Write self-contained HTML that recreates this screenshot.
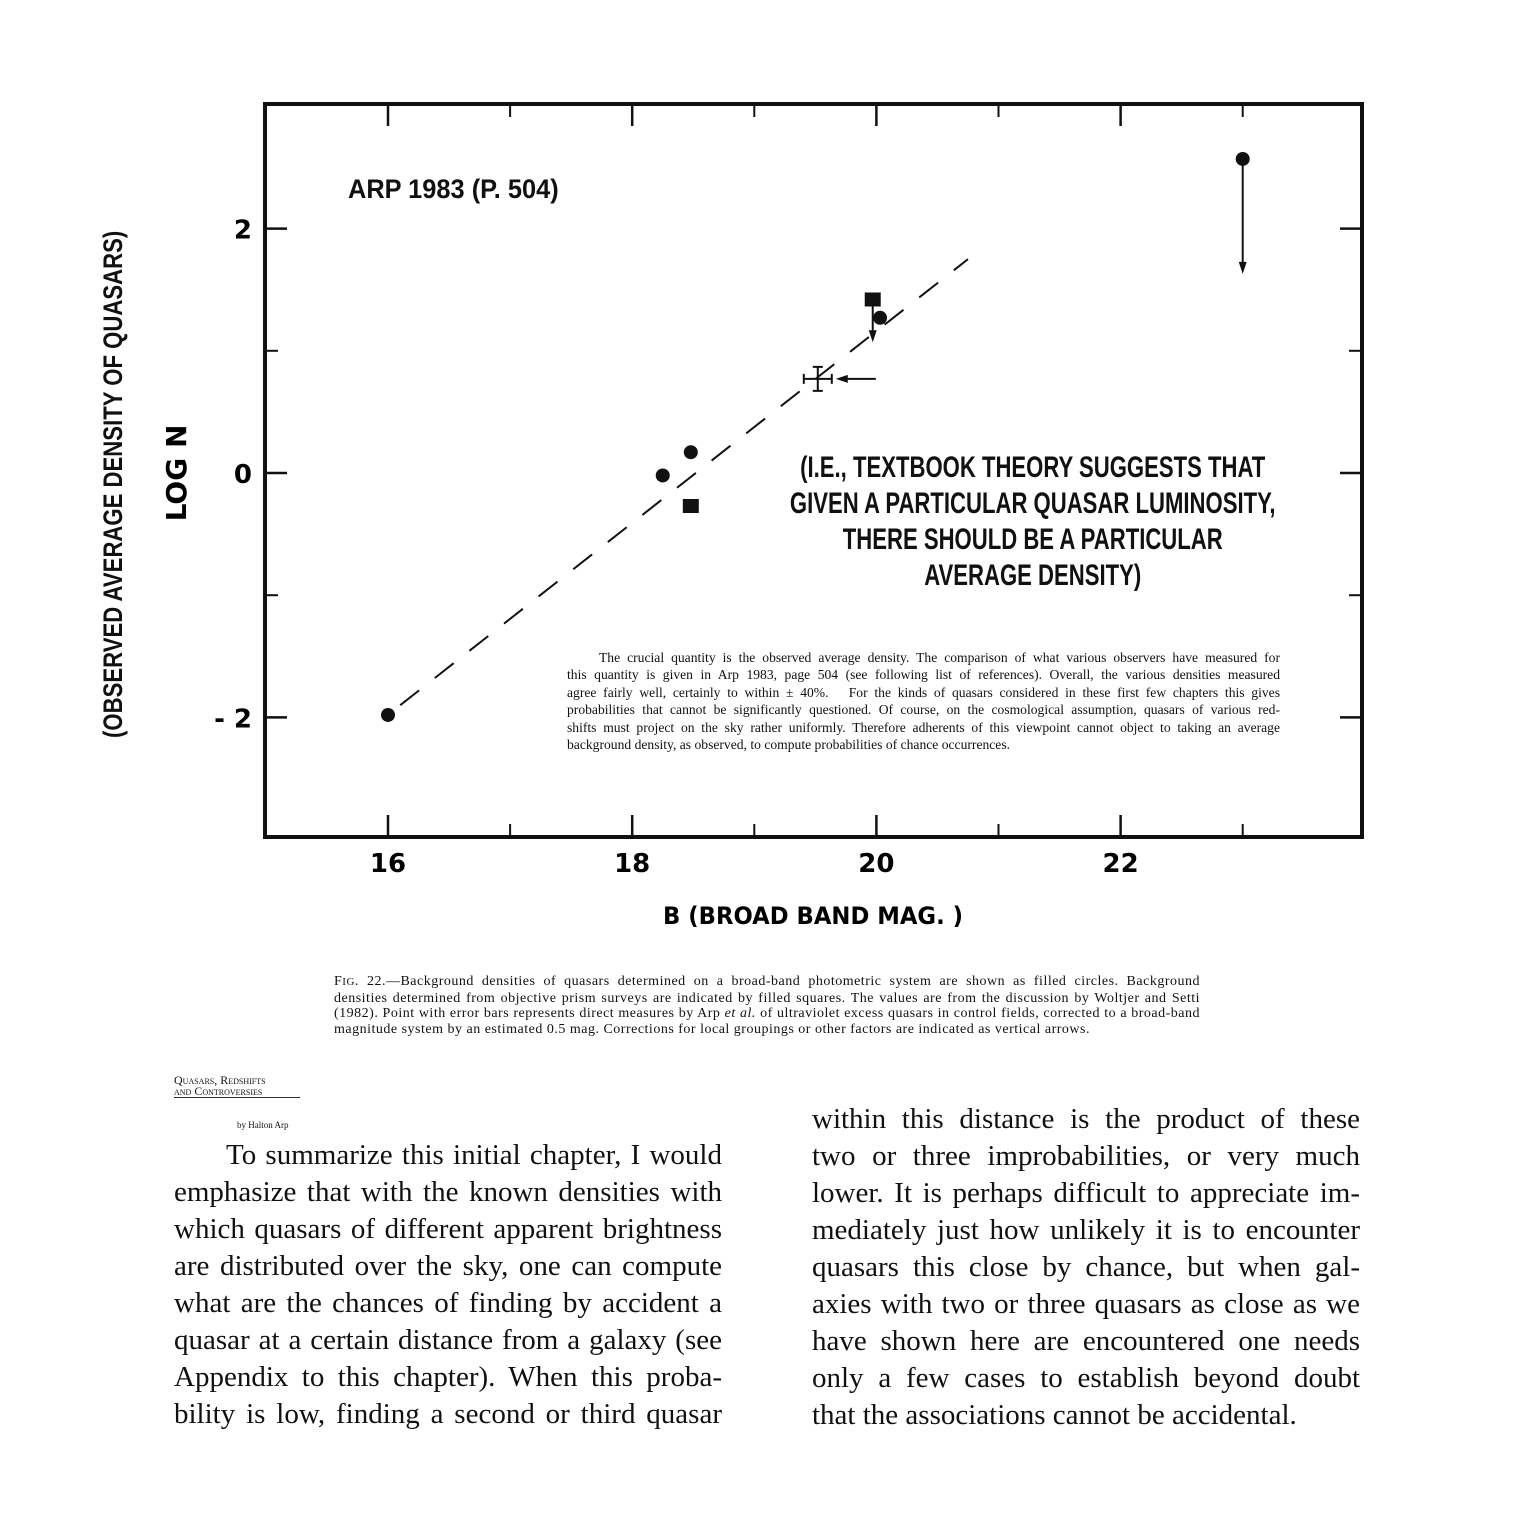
<!DOCTYPE html>
<html><head><meta charset="utf-8">
<style>
body{margin:0;background:#fff;width:1536px;height:1536px;position:relative;overflow:hidden;font-family:"Liberation Sans",sans-serif;color:#111}
.cond{font-family:"Liberation Sans",sans-serif;font-weight:bold;position:absolute;white-space:nowrap;transform-origin:left top}
.serif{font-family:"Liberation Serif",serif;position:absolute}
.serif div{white-space:nowrap;text-align:justify;text-align-last:justify}
.serif div.last{text-align-last:left}
</style></head><body>
<svg width="1536" height="1536" style="position:absolute;left:0;top:0">
<g id="plot"></g>
</svg>

<div class="cond" style="left:348px;top:174px;font-size:27px;transform:scaleX(0.94)">ARP 1983 (P. 504)</div>
<div class="cond" style="left:98px;top:738px;font-size:27px;transform:rotate(-90deg) scaleX(0.82);transform-origin:left top">(OBSERVED AVERAGE DENSITY OF QUASARS)</div>
<div class="cond" style="left:784px;top:450px;font-size:30px;line-height:36px;text-align:center;width:675px;transform:scaleX(0.737)">(I.E., TEXTBOOK THEORY SUGGESTS THAT<br>GIVEN A PARTICULAR QUASAR LUMINOSITY,<br>THERE SHOULD BE A PARTICULAR<br>AVERAGE DENSITY)</div>
<div class="serif" style="left:567px;top:649px;width:713px;font-size:13.6px;line-height:17.4px">
<div style="padding-left:32px">The crucial quantity is the observed average density. The comparison of what various observers have measured for</div>
<div>this quantity is given in Arp 1983, page 504 (see following list of references). Overall, the various densities measured</div>
<div>agree fairly well, certainly to within ± 40%.&nbsp;&nbsp; For the kinds of quasars considered in these first few chapters this gives</div>
<div>probabilities that cannot be significantly questioned. Of course, on the cosmological assumption, quasars of various red-</div>
<div>shifts must project on the sky rather uniformly. Therefore adherents of this viewpoint cannot object to taking an average</div>
<div class="last">background density, as observed, to compute probabilities of chance occurrences.</div>
</div>
<div class="serif" style="left:334px;top:974px;width:866px;font-size:14px;line-height:15.6px;letter-spacing:0.5px">
<div>F<span style="font-size:11px">IG</span>. 22.—Background densities of quasars determined on a broad-band photometric system are shown as filled circles. Background</div>
<div>densities determined from objective prism surveys are indicated by filled squares. The values are from the discussion by Woltjer and Setti</div>
<div>(1982). Point with error bars represents direct measures by Arp <i>et al.</i> of ultraviolet excess quasars in control fields, corrected to a broad-band</div>
<div class="last">magnitude system by an estimated 0.5 mag. Corrections for local groupings or other factors are indicated as vertical arrows.</div>
</div>
<div class="serif" style="left:174px;top:1075px;font-size:12px;line-height:11px;border-bottom:1px solid #333;width:126px;font-variant:small-caps">Quasars, Redshifts<br>and Controversies</div>
<div class="serif" style="left:237px;top:1120px;font-size:9px">by Halton Arp</div>
<div class="serif" style="left:174px;top:1137px;width:548px;font-size:29px;line-height:37px">
<div style="padding-left:52px">To summarize this initial chapter, I would</div>
<div>emphasize that with the known densities with</div>
<div>which quasars of different apparent brightness</div>
<div>are distributed over the sky, one can compute</div>
<div>what are the chances of finding by accident a</div>
<div>quasar at a certain distance from a galaxy (see</div>
<div>Appendix to this chapter). When this proba-</div>
<div>bility is low, finding a second or third quasar</div>
</div>
<div class="serif" style="left:812px;top:1101px;width:548px;font-size:29px;line-height:37px">
<div>within this distance is the product of these</div>
<div>two or three improbabilities, or very much</div>
<div>lower. It is perhaps difficult to appreciate im-</div>
<div>mediately just how unlikely it is to encounter</div>
<div>quasars this close by chance, but when gal-</div>
<div>axies with two or three quasars as close as we</div>
<div>have shown here are encountered one needs</div>
<div>only a few cases to establish beyond doubt</div>
<div class="last">that the associations cannot be accidental.</div>
</div>

<script>
const xTicks=[16,18,20,22];
const xMinor=[17,19,21,23];
const yTicks=[2,0,-2];
const yMinor=[1,-1];
const circleX=[16,18.25,18.48,20.03,23.0];
const circleY=[-1.98,-0.02,0.17,1.27,2.57];
const squareX=[18.48,19.97];
const squareY=[-0.27,1.42];
const errX=[19.52], errY=[0.77];
const arrowX=[19.97,23.0], arrowFrom=[1.38,2.55], arrowTo=[1.07,1.63];
const fitX=[16.1,20.75], fitY=[-1.9,1.75];

const X0=265,X1=1362,Y0=104,Y1=837;
const xs=v=>388+(v-16)*122.1;
const ys=v=>473-v*122.2;
const g=document.getElementById('plot');
const NS='http://www.w3.org/2000/svg';
function mk(t,a){const e=document.createElementNS(NS,t);for(const k in a)e.setAttribute(k,a[k]);g.appendChild(e);return e;}

let f=mk('rect',{x:X0,y:Y0,width:X1-X0,height:Y1-Y0,fill:'none',stroke:'#111','stroke-width':4});


xTicks.forEach(v=>{
  let t=mk('line',{x1:xs(v),x2:xs(v),y1:Y1,y2:Y1-22,stroke:'#111','stroke-width':2.5});
  
  
  mk('line',{x1:xs(v),x2:xs(v),y1:Y0,y2:Y0+22,stroke:'#111','stroke-width':2.5});
  let l=mk('text',{x:xs(v),y:872,'text-anchor':'middle','font-size':26,'font-weight':'bold','font-family':'DejaVu Sans, sans-serif'});
  l.textContent=v;
  
  
});
xMinor.forEach(v=>{
  mk('line',{x1:xs(v),x2:xs(v),y1:Y1,y2:Y1-13,stroke:'#111','stroke-width':2});
  mk('line',{x1:xs(v),x2:xs(v),y1:Y0,y2:Y0+13,stroke:'#111','stroke-width':2});
});
yTicks.forEach(v=>{
  let t=mk('line',{x1:X0,x2:X0+22,y1:ys(v),y2:ys(v),stroke:'#111','stroke-width':2.5});
  
  
  mk('line',{x1:X1,x2:X1-22,y1:ys(v),y2:ys(v),stroke:'#111','stroke-width':2.5});
  let l=mk('text',{x:252,y:ys(v)+10,'text-anchor':'end','font-size':26,'font-weight':'bold','font-family':'DejaVu Sans, sans-serif'});
  l.textContent=v<0?'- '+(-v):v;
  
  
});
yMinor.forEach(v=>{
  mk('line',{x1:X0,x2:X0+13,y1:ys(v),y2:ys(v),stroke:'#111','stroke-width':2});
  mk('line',{x1:X1,x2:X1-13,y1:ys(v),y2:ys(v),stroke:'#111','stroke-width':2});
});
let xt=mk('text',{x:663,y:924,'font-size':24,'font-weight':'bold','font-family':'DejaVu Sans, sans-serif','textLength':300,'lengthAdjust':'spacingAndGlyphs'});
xt.textContent='B  (BROAD BAND MAG. )';


let yt=mk('text',{x:186,y:473,'font-size':28,'font-weight':'bold','text-anchor':'middle','transform':'rotate(-90 186 473)','font-family':'DejaVu Sans, sans-serif'});
yt.textContent='LOG  N';



let fit=mk('line',{x1:xs(fitX[0]),y1:ys(fitY[0]),x2:xs(fitX[1]),y2:ys(fitY[1]),stroke:'#111','stroke-width':2,'stroke-dasharray':'24 20'});



circleX.forEach((v,i)=>{
  let c=mk('circle',{cx:xs(v),cy:ys(circleY[i]),r:7,fill:'#111'});
  
  
});
squareX.forEach((v,i)=>{
  let s=mk('rect',{x:xs(v)-8,y:ys(squareY[i])-7,width:16,height:14,fill:'#111'});
  
  
});
arrowX.forEach((v,i)=>{
  const x=xs(v),a=ys(arrowFrom[i]),b=ys(arrowTo[i]);
  let l=mk('line',{x1:x,x2:x,y1:a,y2:b-6,stroke:'#111','stroke-width':2});
  
  
  mk('path',{d:`M${x-4} ${b-12} L${x+4} ${b-12} L${x} ${b} Z`,fill:'#111'});
});
errX.forEach((v,i)=>{
  const x=xs(v),y=ys(errY[i]);
  let e=mk('path',{d:`M${x-14} ${y}H${x+14}M${x} ${y-12}V${y+12}M${x-14} ${y-5}V${y+5}M${x+14} ${y-5}V${y+5}M${x-5} ${y-12}H${x+5}M${x-5} ${y+12}H${x+5}`,stroke:'#111','stroke-width':2,fill:'none'});
  
  
  mk('line',{x1:x+26,x2:x+58,y1:y,y2:y,stroke:'#111','stroke-width':2});
  mk('path',{d:`M${x+18} ${y} L${x+30} ${y-4} L${x+30} ${y+4} Z`,fill:'#111'});
});
</script>
</body></html>
